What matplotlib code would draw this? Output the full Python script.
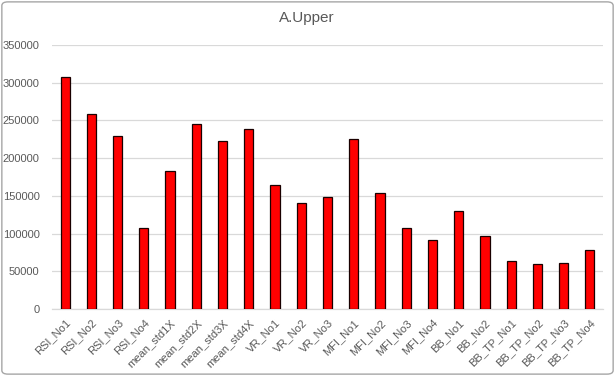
import matplotlib
matplotlib.use("Agg")
import matplotlib.pyplot as plt
from matplotlib.patches import FancyBboxPatch

categories = ["RSI_No1", "RSI_No2", "RSI_No3", "RSI_No4",
              "mean_std1X", "mean_std2X", "mean_std3X", "mean_std4X",
              "VR_No1", "VR_No2", "VR_No3",
              "MFI_No1", "MFI_No2", "MFI_No3", "MFI_No4",
              "BB_No1", "BB_No2",
              "BB_TP_No1", "BB_TP_No2", "BB_TP_No3", "BB_TP_No4"]
values = [307000, 258000, 229000, 107000,
          183000, 245000, 223000, 238000,
          164000, 140000, 148000,
          226000, 154000, 108000, 92000,
          130000, 97000,
          64000, 59000, 61000, 78000]
yticks = [0, 50000, 100000, 150000, 200000, 250000, 300000, 350000]
title = "A.Upper"

plt.rcParams['font.family'] = ['Liberation Sans', 'DejaVu Sans']

fig = plt.figure(figsize=(6.15, 3.76), dpi=100)
ax = fig.add_axes([52/615, 1-309/376, 551/615, 264/376])

x = range(len(categories))
ax.bar(x, values, width=0.35, color="#ff0000", edgecolor="#1a0000", linewidth=0.9, zorder=3)
ax.set_xlim(-0.5, len(categories) - 0.5)
ax.set_ylim(0, 350000)
ax.set_yticks(yticks)
ax.set_yticklabels([str(v) for v in yticks])
ax.set_xticks(list(x))
ax.set_xticklabels(categories, rotation=45, ha="right", rotation_mode="anchor")
ax.tick_params(axis="both", length=0, colors="#595959", labelsize=8)
ax.tick_params(axis="x", pad=6)
ax.tick_params(axis="y", pad=9)
ax.grid(axis="y", color="#d9d9d9", linewidth=0.9, zorder=0)
for s in ["top", "right", "left"]:
    ax.spines[s].set_visible(False)
ax.spines["bottom"].set_color("#d9d9d9")
ax.spines["bottom"].set_linewidth(0.9)

fig.text(307/615, 1-18/376, title, ha="center", va="center", fontsize=11, color="#595959")

border = FancyBboxPatch((0.003, 0.005), 0.994, 0.99, boxstyle="round,pad=0,rounding_size=0.01",
                        transform=fig.transFigure, fill=False, edgecolor="#a6a6a6", linewidth=1)
fig.patches.append(border)

fig.savefig("out.png", dpi=100)
